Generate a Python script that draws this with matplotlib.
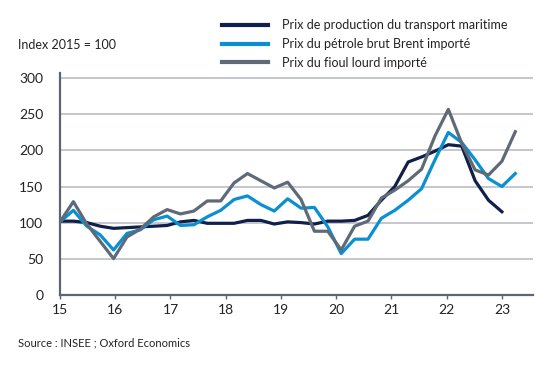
import numpy as np
import matplotlib
matplotlib.use('Agg')
import matplotlib.pyplot as plt

plt.rcParams['font.family'] = ['Lato', 'DejaVu Sans']

# quarterly series, 2015Q1 onwards (index 2015 = 100)
transport = [102, 102, 100, 95, 92, 93, 94, 95, 96, 101, 103, 99, 99, 99, 103, 103, 98,
             101, 100, 98, 102, 102, 103, 110, 131, 150, 184, 191, 199, 208, 206, 158, 131, 115]
brent = [101, 117, 95, 83, 62, 85, 90, 104, 109, 96, 97, 108, 117, 132, 137, 125, 116, 133,
         120, 121, 94, 57, 77, 77, 106, 117, 131, 147, 187, 225, 211, 187, 161, 150, 168]
fioul = [101, 129, 98, 74, 50, 80, 91, 108, 118, 112, 116, 130, 130, 155, 168, 158, 148, 156,
         132, 88, 88, 62, 95, 102, 134, 145, 158, 174, 220, 257, 210, 173, 166, 185, 226]
labels = ['Prix de production du transport maritime',
          'Prix du pétrole brut Brent importé',
          'Prix du fioul lourd importé']
year_labels = ['15', '16', '17', '18', '19', '20', '21', '22', '23']

navy = '#10204a'
blue = '#0a8fd2'
grey = '#5f6977'
axis_col = '#5b6573'
grid_col = '#babec4'
txt = '#222222'

fig = plt.figure(figsize=(5.55, 3.72), dpi=100)
ax = fig.add_axes([60/555, 1-294.7/372, 472.7/555, (294.7-73.3)/372])

lw = 2.3
l1, = ax.plot(np.arange(len(transport)), transport, color=navy, lw=lw, zorder=3)
l2, = ax.plot(np.arange(len(brent)), brent, color=blue, lw=lw, zorder=4)
l3, = ax.plot(np.arange(len(fioul)), fioul, color=grey, lw=lw, zorder=5)

ax.set_xlim(0, 35.3)
ax.set_ylim(0, 307)
ax.set_yticks(range(0, 301, 50))
ax.set_xticks(np.linspace(0, 33, 9))
ax.set_xticklabels(year_labels)
for y in range(50, 301, 50):
    ax.axhline(y, color=grid_col, lw=1.2, zorder=1)

for s in ['top', 'right']:
    ax.spines[s].set_visible(False)
for s in ['left', 'bottom']:
    ax.spines[s].set_color(axis_col)
    ax.spines[s].set_linewidth(1.6)
ax.tick_params(axis='x', length=3, width=1, color=axis_col, pad=4, labelsize=10, labelcolor=txt)
ax.tick_params(axis='y', length=0, pad=12, labelsize=10, labelcolor=txt)

fig.text(18/555, 1-45/372, 'Index 2015 = 100', fontsize=9, color=txt, va='center')
fig.text(18/555, 1-343/372, 'Source : INSEE ; Oxford Economics', fontsize=8, color=txt, va='center')

leg = fig.legend([l1, l2, l3], labels, loc='upper left', bbox_to_anchor=(222/555, 1-19/372),
                 frameon=False, fontsize=9, handlelength=3.7, handletextpad=1.1,
                 labelspacing=0.55, borderpad=0, borderaxespad=0)
for h in leg.get_lines():
    h.set_linewidth(3)
for t in leg.get_texts():
    t.set_color(txt)

fig.savefig('out.png', dpi=100)
